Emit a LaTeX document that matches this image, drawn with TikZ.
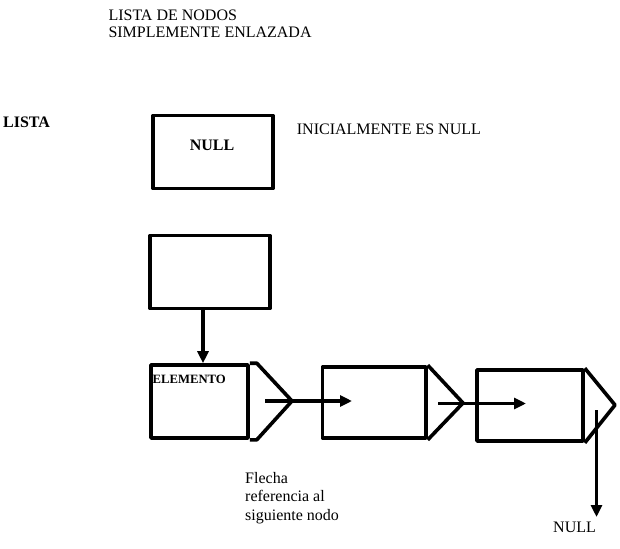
\documentclass[tikz,border=0pt]{standalone}
\usepackage{fontspec}
\setmainfont{Liberation Serif}
\usetikzlibrary{arrows.meta}
\tikzset{
  box/.style={draw, line width=3.6pt, rectangle, inner sep=0pt, line join=round},
  ptr/.style={draw, line width=3.6pt, line join=round},
  arr/.style={line width=3.2pt, -{Triangle[length=12pt,width=11pt]}},
  txt/.style={inner sep=0pt, anchor=base west, font=\fontsize{16}{18}\selectfont},
  btxt/.style={inner sep=0pt, anchor=base west, font=\fontsize{16}{18}\selectfont\bfseries}
}
\begin{document}
\begin{tikzpicture}[x=1pt,y=-1pt]
\useasboundingbox (0,0) rectangle (620,548);
% title
\node[txt] (t1) at (108.3,21) {LISTA DE NODOS};
\node[txt] (t2) at (108.3,38) {SIMPLEMENTE ENLAZADA};
\node[btxt] (lista) at (3,127.3) {LISTA};
\node[txt] (ini) at (296.7,135) {INICIALMENTE ES NULL};
% null box
\node[box, minimum width=120pt, minimum height=73pt] (b0) at (213,152) {};
\node[btxt, anchor=base] (nulltxt) at (212,150.7) {NULL};
% pointer box
\node[box, minimum width=120pt, minimum height=73pt] (b1) at (210,272) {};
% list nodes
\node[box, minimum width=97pt, minimum height=73pt] (n1) at (199.5,401.5) {};
\node[box, minimum width=103.3pt, minimum height=71pt] (n2) at (374.3,402.5) {};
\node[box, minimum width=106pt, minimum height=71pt] (n3) at (530,405.5) {};
% pointer triangles
\coordinate (a1) at (292,401);
\coordinate (a2) at (463,403);
\coordinate (a3) at (615,405);
\path[ptr] (n1.north east) -- ++(7,0) -- (a1) -- ([xshift=7pt]n1.south east) -- (n1.south east);
\path[ptr] (n2.north east) -- (a2) -- (n2.south east);
\path[ptr] (n3.north east) -- (a3) -- (n3.south east);
\node[inner sep=0pt, anchor=base west, font=\fontsize{12.7}{14}\selectfont\bfseries] (elem) at (152.5,383) {ELEMENTO};
% connectors
\coordinate (d1) at (203,309);
\draw[arr] (d1) -- (d1 |- n1.north);
\coordinate (s1) at (265,401);
\coordinate (e1) at (352,401);
\draw[arr] (s1) -- (e1);
\coordinate (s2) at (438,403.5);
\coordinate (e2) at (526,403.5);
\draw[arr] (s2) -- (e2);
\coordinate (s3) at (596.5,410);
\coordinate (e3) at (596.5,517);
\draw[arr] (s3) -- (e3);
% captions
\node[txt] (f1) at (245,483.3) {Flecha};
\node[txt] (f2) at (245,501.7) {referencia al};
\node[txt] (f3) at (245,520) {siguiente nodo};
\node[txt] (nullend) at (553,532) {NULL};
\end{tikzpicture}
\end{document}
